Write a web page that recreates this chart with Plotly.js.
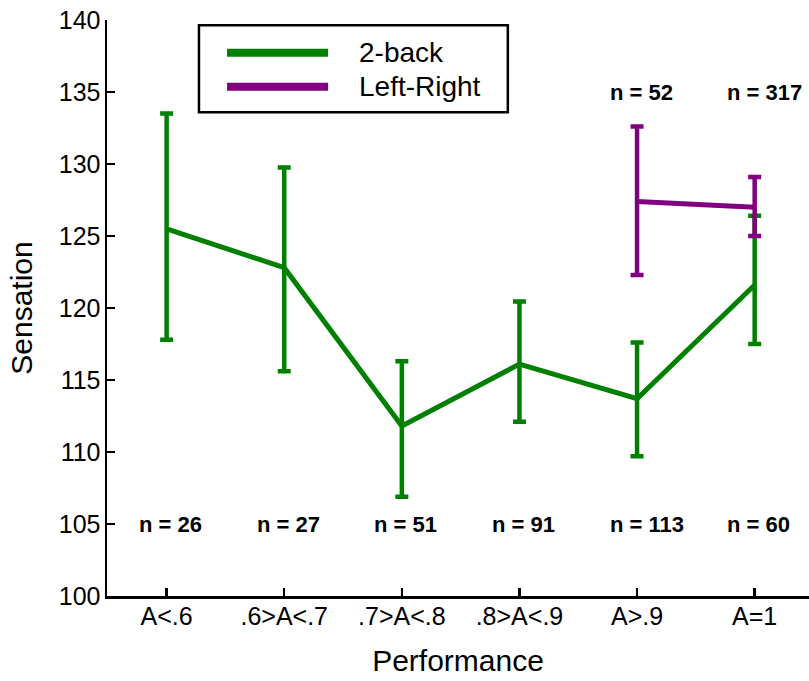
<!DOCTYPE html>
<html>
<head>
<meta charset="utf-8">
<script src="https://cdn.plot.ly/plotly-3.0.1.min.js"></script>
<style>html,body{margin:0;padding:0;background:#fff;}#chart{width:809px;height:681px;}</style>
</head>
<body>
<div id="chart"></div>
<script>
// ---- data ----
const categories = ["A<.6", ".6>A<.7", ".7>A<.8", ".8>A<.9", "A>.9", "A=1"];

const twoBackMean  = [125.5, 122.8, 111.8, 116.1, 113.7, 121.6];
const twoBackUpper = [133.5, 129.75, 116.3, 120.45, 117.6, 126.4];
const twoBackLower = [117.8, 115.6, 106.9, 112.1, 109.7, 117.5];
const twoBackN     = ["n = 26", "n = 27", "n = 51", "n = 91", "n = 113", "n = 60"];

const lrCategories = ["A>.9", "A=1"];
const lrMean  = [127.4, 127.0];
const lrUpper = [132.6, 129.1];
const lrLower = [122.3, 125.0];
const lrN     = ["n = 52", "n = 317"];

const seriesNames  = ["2-back", "Left-Right"];
const seriesColors = ["#008000", "#800080"];

// ---- build ----
const idx = c => categories.indexOf(c);
const xGreen = categories.map((c, i) => i);
const xPurple = lrCategories.map(idx);

const FONT = "Liberation Sans, Arial, sans-serif";

function trace(x, mean, upper, lower, name, color) {
  return {
    type: "scatter", mode: "lines", x: x, y: mean, name: name,
    line: {color: color, width: 5},
    error_y: {
      type: "data", symmetric: false,
      array: upper.map((u, i) => u - mean[i]),
      arrayminus: lower.map((l, i) => mean[i] - l),
      color: color, thickness: 4.5, width: 6.5
    },
    showlegend: false, hoverinfo: "skip"
  };
}

const data = [
  trace(xGreen, twoBackMean, twoBackUpper, twoBackLower, seriesNames[0], seriesColors[0]),
  trace(xPurple, lrMean, lrUpper, lrLower, seriesNames[1], seriesColors[1])
];

const annotations = [];
twoBackN.forEach((t, i) => annotations.push({
  x: xGreen[i] - 0.25, y: 105, xref: "x", yref: "y", text: "<b>" + t + "</b>",
  showarrow: false, xanchor: "left", yanchor: "middle",
  font: {family: FONT, size: 22, color: "#000"}
}));
lrN.forEach((t, i) => annotations.push({
  x: xPurple[i] - 0.25, y: 135, xref: "x", yref: "y", text: "<b>" + t + "</b>",
  showarrow: false, xanchor: "left", yanchor: "middle",
  font: {family: FONT, size: 22, color: "#000"}
}));

// manual legend (long line samples like the original)
const shapes = [{
  type: "rect", xref: "paper", yref: "paper",
  x0: 0.131, x1: 0.571, y0: 0.840, y1: 0.991,
  line: {color: "#000", width: 2.5}, fillcolor: "#fff", layer: "above"
}];
const legendY = [0.943, 0.884];
seriesNames.forEach((nm, i) => {
  shapes.push({
    type: "line", xref: "paper", yref: "paper",
    x0: 0.171, x1: 0.315, y0: legendY[i], y1: legendY[i],
    line: {color: seriesColors[i], width: 8}, layer: "above"
  });
  annotations.push({
    xref: "paper", yref: "paper", x: 0.3557, y: legendY[i],
    xanchor: "left", yanchor: "middle", text: nm, showarrow: false,
    font: {family: FONT, size: 28, color: "#000"}
  });
});

const layout = {
  width: 809, height: 681,
  margin: {l: 107, r: 0, t: 20, b: 85, pad: 0},
  paper_bgcolor: "#fff", plot_bgcolor: "#fff",
  font: {family: FONT, color: "#000"},
  showlegend: false,
  xaxis: {
    type: "linear", range: [-0.507, 5.462],
    tickmode: "array", tickvals: xGreen, ticktext: categories,
    ticks: "inside", ticklen: 8, tickwidth: 2.5, tickcolor: "#000",
    showline: true, linecolor: "#000", linewidth: 2.5,
    showgrid: false, zeroline: false,
    tickfont: {family: FONT, size: 25, color: "#000"},
    ticklabelstandoff: -4,
    title: {text: "Performance", font: {family: FONT, size: 30, color: "#000"}, standoff: 22}
  },
  yaxis: {
    range: [100, 140], tickmode: "linear", tick0: 100, dtick: 5,
    ticks: "inside", ticklen: 8, tickwidth: 2.5, tickcolor: "#000",
    showline: true, linecolor: "#000", linewidth: 2.5,
    showgrid: false, zeroline: false,
    tickfont: {family: FONT, size: 25, color: "#000"},
    ticklabelstandoff: -1,
    title: {text: "Sensation", font: {family: FONT, size: 30, color: "#000"}, standoff: 18}
  },
  annotations: annotations,
  shapes: shapes
};

Plotly.newPlot("chart", data, layout, {displayModeBar: false, staticPlot: true});
</script>
</body>
</html>
